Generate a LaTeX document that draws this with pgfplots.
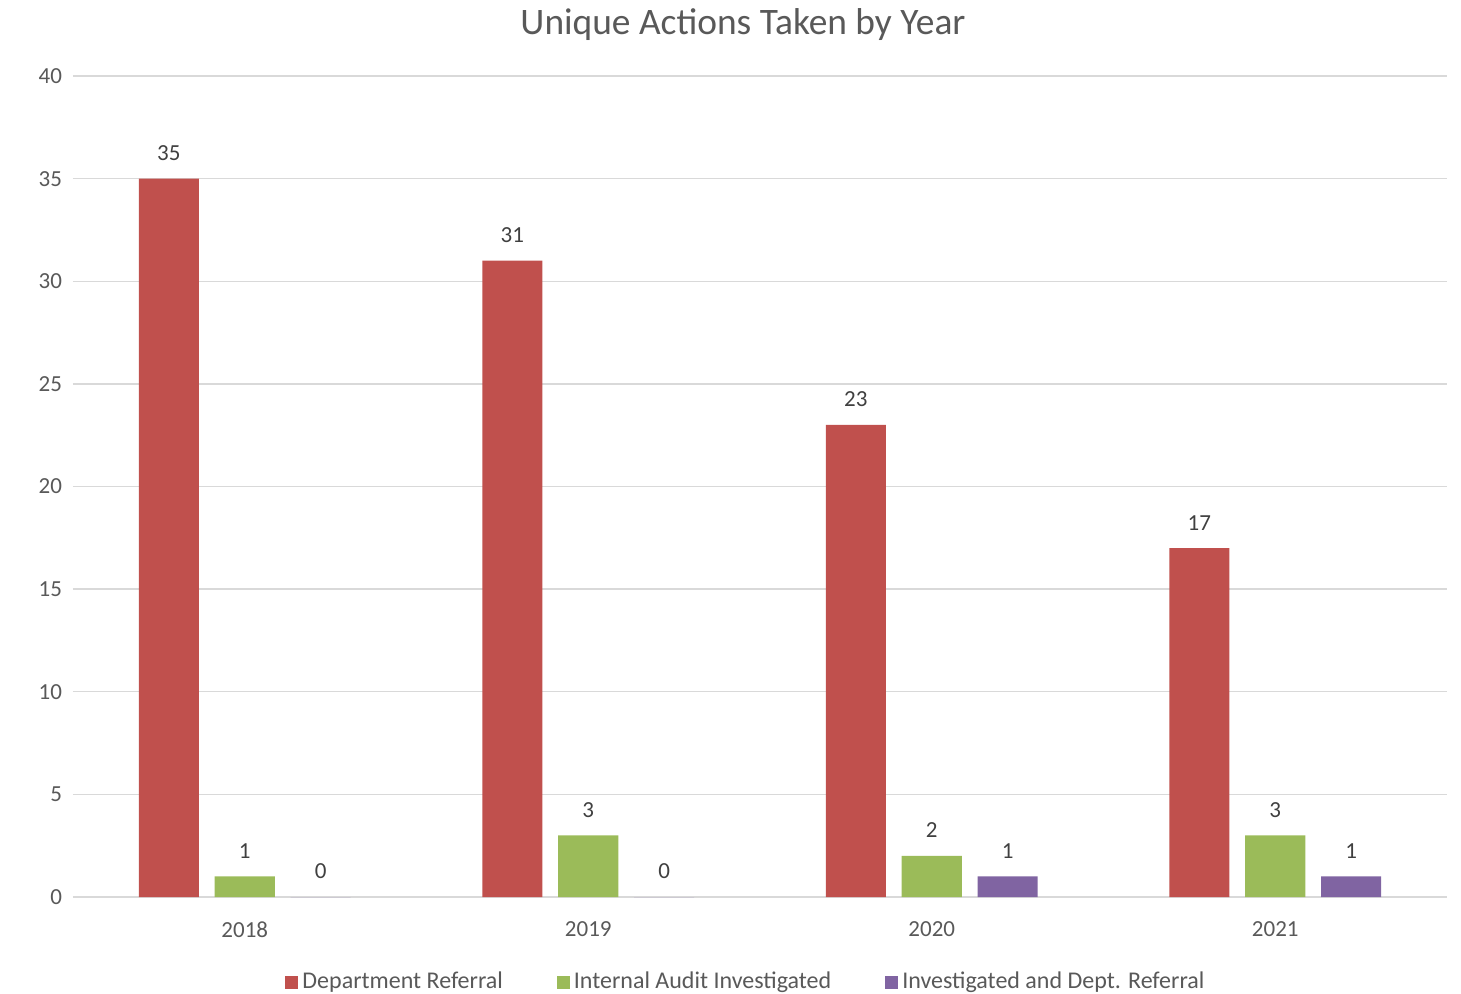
\documentclass[border=0pt]{standalone}
\usepackage{pgfplots}
\pgfplotsset{compat=1.18}
\usepackage{fontspec}
\setmainfont{Carlito}
\definecolor{cred}{HTML}{C0504D}
\definecolor{cgreen}{HTML}{9BBB59}
\definecolor{cpurple}{HTML}{8064A2}
\definecolor{cgrid}{HTML}{D9D9D9}
\definecolor{ctext}{HTML}{595959}
\definecolor{clabel}{HTML}{404040}
\begin{document}
\begin{tikzpicture}
\useasboundingbox (-36.5pt,-48pt) rectangle (694pt,448.5pt);
\begin{axis}[
  at={(0,0)}, anchor=south west,
  scale only axis, width=687pt, height=410.5pt,
  xmin=-0.5, xmax=3.5, ymin=0, ymax=40,
  xtick={0,1,2,3}, xticklabels={2018,2019,2020,2021},
  ytick={0,5,...,40},
  ymajorgrids, grid style={cgrid, line width=0.7pt},
  axis line style={draw=none},
  tick style={draw=none},
  ticklabel style={font=\fontsize{11.5}{14}\selectfont, text=ctext},
  yticklabel style={xshift=-2pt},
  xticklabel style={yshift=-4.5pt},
  /pgf/number format/assume math mode=true,
  ybar, bar width=0.175,
  nodes near coords,
  nodes near coords style={font=\fontsize{11.5}{14}\selectfont, text=clabel, yshift=5.5pt},
  legend columns=3,
  legend style={draw=none, at={(0.4905,-0.1036)}, anchor=center,
    font=\fontsize{12}{14}\selectfont, text=ctext,
    /tikz/every even column/.append style={column sep=25pt}},
  legend image code/.code={\fill[#1] (0pt,-3.25pt) rectangle (6.5pt,3.25pt);},
]
\addplot[fill=cred, draw=none, bar shift=-0.221] coordinates {(0,35) (1,31) (2,23) (3,17)};
\addplot[fill=cgreen, draw=none, bar shift=0] coordinates {(0,1) (1,3) (2,2) (3,3)};
\addplot[fill=cpurple, draw=none, bar shift=0.221] coordinates {(0,0) (1,0) (2,1) (3,1)};
\legend{Department Referral, Internal Audit Investigated, Investigated and Dept. Referral}
\end{axis}
\node[font=\fontsize{18.7}{22}\selectfont, text=ctext] at (335pt,436pt) {Unique Actions Taken by Year};
\end{tikzpicture}
\end{document}
